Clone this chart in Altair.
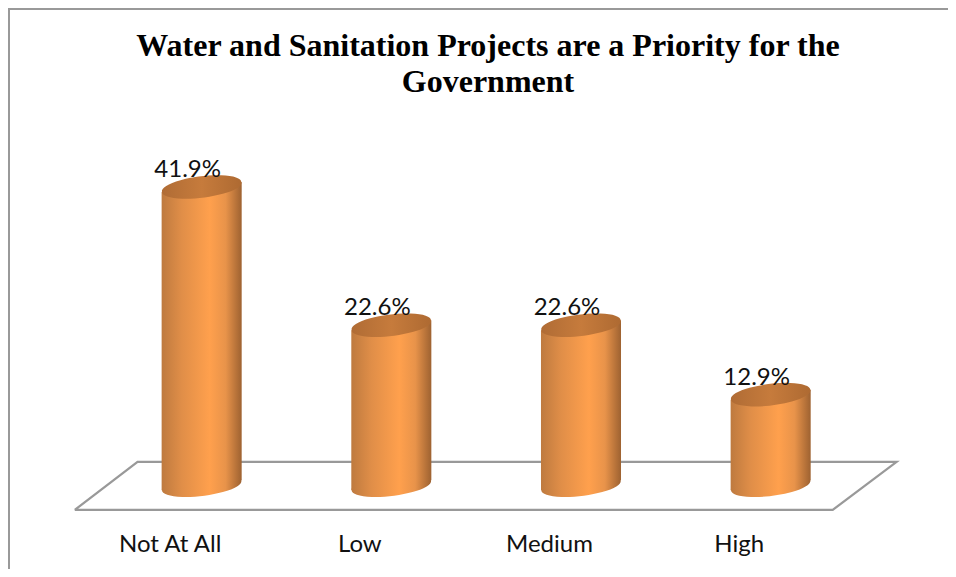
import altair as alt
import pandas as pd

categories = ["Not At All", "Low", "Medium", "High"]
positions = [0, 1, 2, 3]
values = [41.9, 22.6, 22.6, 12.9]
labels = ["41.9%", "22.6%", "22.6%", "12.9%"]
floor_x = [-0.669, 3.327, 3.664, -0.338, -0.669]
floor_y = [-3.2, -3.2, 3.5, 3.5, -3.2]
floor_order = [0, 1, 2, 3, 4]
half_width = 0.211
tilt = 0.7
base = 0.25

cols = pd.DataFrame({"pos": positions, "value": values, "label": labels, "zero": [base] * 4})
body = pd.DataFrame(
    [
        {"cat": p, "x": p + s * half_width, "top": v + s * tilt, "bottom": base + s * tilt}
        for p, v in zip(positions, values)
        for s in (-1, 1)
    ]
)
floor = pd.DataFrame({"x": floor_x, "y": floor_y, "o": floor_order})

x_scale = alt.Scale(domain=[-1.021, 3.935], nice=False, zero=False)
y_scale = alt.Scale(domain=[-11.45, 66.9], nice=False, zero=False)

body_grad = alt.Gradient(
    gradient="linear", x1=0, x2=1, y1=0, y2=0,
    stops=[
        alt.GradientStop(color="#BE7A3F", offset=0),
        alt.GradientStop(color="#E08E48", offset=0.25),
        alt.GradientStop(color="#FFA04D", offset=0.6),
        alt.GradientStop(color="#E8934A", offset=0.8),
        alt.GradientStop(color="#9E6231", offset=1),
    ],
)
top_grad = alt.Gradient(
    gradient="linear", x1=0, x2=1, y1=0, y2=0,
    stops=[
        alt.GradientStop(color="#B06C35", offset=0),
        alt.GradientStop(color="#C67B3C", offset=0.5),
        alt.GradientStop(color="#AE6A32", offset=1),
    ],
)
ellipse = "M -0.992 0.12 A 1 0.26 -7 1 1 0.992 -0.12 A 1 0.26 -7 1 1 -0.992 0.12 Z"

x_axis = alt.Axis(
    values=positions, title=None, grid=False, domain=False, ticks=False,
    labelExpr="['Not At All','Low','Medium','High'][datum.value]",
    labelFont="Lato", labelFontSize=24, labelColor="#111111", offset=-37, labelPadding=0,
    labelOffset=-32,
)

floor_layer = alt.Chart(floor).mark_line(color="#999999", strokeWidth=2.2).encode(
    x=alt.X("x:Q", scale=x_scale, axis=x_axis),
    y=alt.Y("y:Q", scale=y_scale, axis=None),
    order="o:Q",
)
bottoms = alt.Chart(cols).mark_point(shape=ellipse, size=6400, filled=True, fill=body_grad, opacity=1, strokeWidth=0).encode(
    x=alt.X("pos:Q", scale=x_scale), y=alt.Y("zero:Q", scale=y_scale)
)
bodies = alt.Chart(body).mark_area(fill=body_grad, line=False).encode(
    x=alt.X("x:Q", scale=x_scale),
    y=alt.Y("top:Q", scale=y_scale),
    y2="bottom:Q",
    detail="cat:N",
)
tops = alt.Chart(cols).mark_point(shape=ellipse, size=6400, filled=True, fill=top_grad, opacity=1, strokeWidth=0).encode(
    x=alt.X("pos:Q", scale=x_scale), y=alt.Y("value:Q", scale=y_scale)
)
texts = alt.Chart(cols).mark_text(font="Lato", fontSize=24, color="#111111", dx=-14, dy=-17).encode(
    x=alt.X("pos:Q", scale=x_scale), y=alt.Y("value:Q", scale=y_scale), text="label:N"
)
left_line = alt.Chart(cols).mark_rule(color="#999999", strokeWidth=2).encode(
    x=alt.value(1), y=alt.value(0), y2=alt.value(561)
)
top_line = alt.Chart(cols).mark_rule(color="#999999", strokeWidth=2).encode(
    x=alt.value(0), x2=alt.value(940), y=alt.value(1)
)

chart = (
    alt.layer(floor_layer, bottoms, bodies, tops, texts, left_line, top_line)
    .properties(
        width=940,
        height=561,
        padding=0,
        background="#FFFFFF",
        autosize=alt.AutoSizeParams(type="none"),
        title=alt.TitleParams(
            text=["Water and Sanitation Projects are a Priority for the", "Government"],
            font="Liberation Serif", fontSize=32, fontWeight="bold", color="#000000",
            anchor="start", align="center", baseline="top", frame="group",
            dx=480, dy=92, offset=0, lineHeight=36,
        ),
    )
    .configure_view(stroke=None)
)
chart.save("out.html", embed_options={"renderer": "svg", "actions": False})
